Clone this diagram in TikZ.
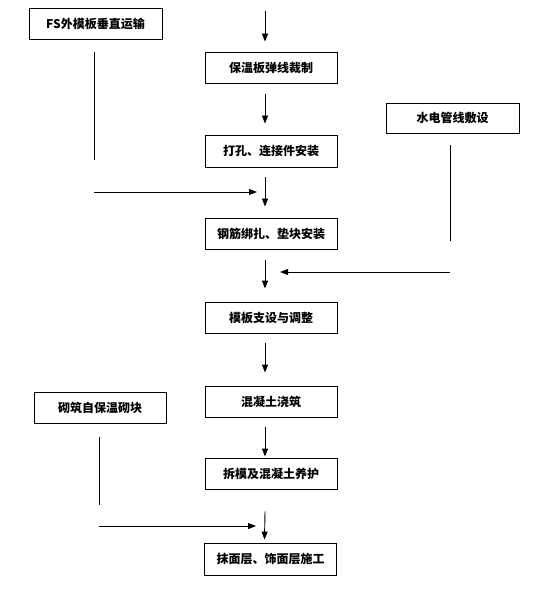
\documentclass[tikz,border=0pt]{standalone}
\usepackage{fontspec}
\newfontfamily\cjk{Noto Sans CJK SC}
\usetikzlibrary{arrows.meta,calc}
\tikzset{
  box/.style={draw,line width=0.9pt,minimum width=132pt,minimum height=31pt,inner sep=0pt,font=\cjk\bfseries\fontsize{12}{14}\selectfont},
  arr/.style={line width=0.9pt,-{Triangle[length=8pt,width=6pt]}},
  ln/.style={line width=0.9pt}
}
\begin{document}
\begin{tikzpicture}[x=1pt,y=-1pt]
\useasboundingbox[fill=white] (0,0) rectangle (532,601);
\node[box,minimum width=133pt] (b1) at (95.5,23.5) {FS外模板垂直运输};
\node[box] (b2) at (271,67.5) {保温板弹线裁制};
\node[box,minimum height=32pt] (b3) at (271,151) {打孔、连接件安装};
\node[box] (b4) at (271,233.5) {钢筋绑扎、垫块安装};
\node[box,minimum width=133pt,minimum height=30pt] (bw) at (452.5,118) {水电管线敷设};
\node[box] (b5) at (271,317.5) {模板支设与调整};
\node[box] (b6) at (271,401.5) {混凝土浇筑};
\node[box] (b7) at (271,473.5) {拆模及混凝土养护};
\node[box,minimum height=32pt] (b8) at (270.5,559) {抹面层、饰面层施工};
\node[box] (bq) at (100,408) {砌筑自保温砌块};
% free ends
\coordinate (top) at (265,11);
\coordinate (s1a) at (94,160);
\coordinate (s1b) at (94,192);
\coordinate (s1c) at (257,192);
\coordinate (s2a) at (450,241);
\coordinate (s2b) at (450,272);
\coordinate (s2c) at (280,272);
\coordinate (s3a) at (99,505);
\coordinate (s3b) at (99,526);
\coordinate (s3c) at (256,526);
% main column
\draw[arr] (top) -- ($(b2.north)+(-6,-10)$);
\draw[arr] ($(b2.south)+(-6,11)$) -- ($(b3.north)+(-6,-11)$);
\draw[arr] ($(b3.south)+(-6,10)$) -- ($(b4.north)+(-6,-11)$);
\draw[arr] ($(b4.south)+(-6,11)$) -- ($(b5.north)+(-6,-13)$);
\draw[arr] ($(b5.south)+(-6,10)$) -- ($(b6.north)+(-6,-13)$);
\draw[arr] ($(b6.south)+(-6,10)$) -- ($(b7.north)+(-6,-1)$);
\draw[arr] ($(b7.south)+(-6,22)$) -- ($(b8.north)+(-6,-3)$);
% side inputs
\draw[ln] ($(b1.south)+(-1.5,13)$) -- (s1a);
\draw[arr] (s1b) -- (s1c);
\draw[ln] ($(bw.south)+(-2.5,12)$) -- (s2a);
\draw[arr] (s2b) -- (s2c);
\draw[ln] ($(bq.south)+(-1,13)$) -- (s3a);
\draw[arr] (s3b) -- (s3c);
\end{tikzpicture}
\end{document}
